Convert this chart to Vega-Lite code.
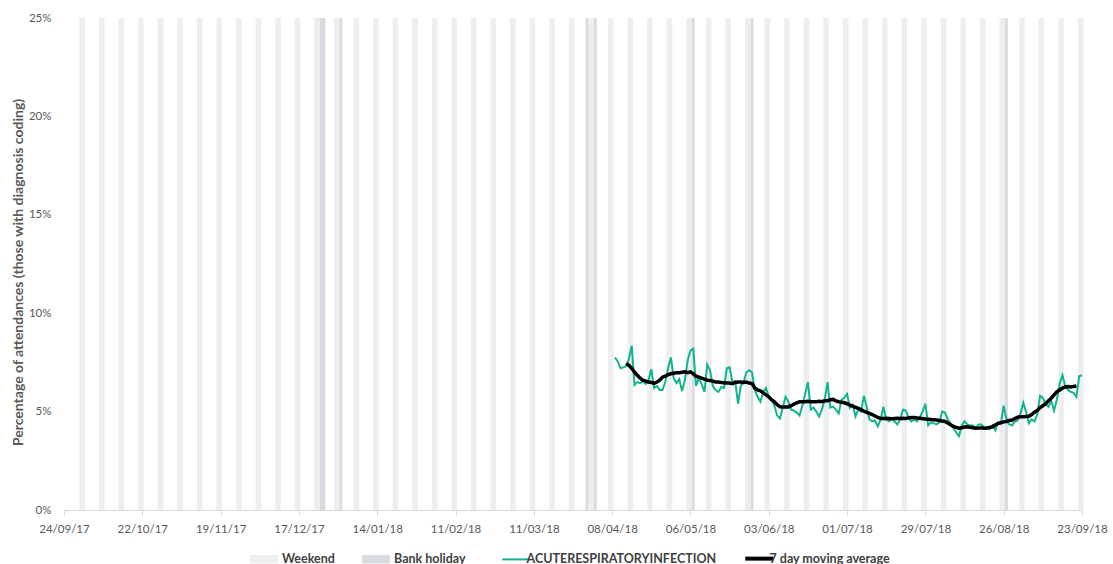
{
  "$schema": "https://vega.github.io/schema/vega-lite/v6.json",
  "width": 1018,
  "height": 492,
  "autosize": {"type": "none"},
  "padding": {"left": 64, "top": 18, "right": 31, "bottom": 54},
  "background": "#ffffff",
  "config": {
    "view": {"stroke": null},
    "font": "Lato",
    "axis": {"labelFont": "Lato", "labelColor": "#595959", "labelFontSize": 11.5, "titleFont": "Lato", "titleColor": "#595959", "titleFontWeight": "bold", "titleFontSize": 14},
    "legend": {"labelFont": "Lato", "labelFontSize": 12.5, "labelFontWeight": "bold", "labelColor": "#404040", "labelLimit": 320, "layout": {"bottom": {"anchor": "middle", "margin": 44}}}
  },
  "datasets": {
    "bands": [
      {"start": "2017-09-30", "end": "2017-10-01", "type": "Weekend"},
      {"start": "2017-10-07", "end": "2017-10-08", "type": "Weekend"},
      {"start": "2017-10-14", "end": "2017-10-15", "type": "Weekend"},
      {"start": "2017-10-21", "end": "2017-10-22", "type": "Weekend"},
      {"start": "2017-10-28", "end": "2017-10-29", "type": "Weekend"},
      {"start": "2017-11-04", "end": "2017-11-05", "type": "Weekend"},
      {"start": "2017-11-11", "end": "2017-11-12", "type": "Weekend"},
      {"start": "2017-11-18", "end": "2017-11-19", "type": "Weekend"},
      {"start": "2017-11-25", "end": "2017-11-26", "type": "Weekend"},
      {"start": "2017-12-02", "end": "2017-12-03", "type": "Weekend"},
      {"start": "2017-12-09", "end": "2017-12-10", "type": "Weekend"},
      {"start": "2017-12-16", "end": "2017-12-17", "type": "Weekend"},
      {"start": "2017-12-23", "end": "2017-12-24", "type": "Weekend"},
      {"start": "2017-12-30", "end": "2017-12-31", "type": "Weekend"},
      {"start": "2018-01-06", "end": "2018-01-07", "type": "Weekend"},
      {"start": "2018-01-13", "end": "2018-01-14", "type": "Weekend"},
      {"start": "2018-01-20", "end": "2018-01-21", "type": "Weekend"},
      {"start": "2018-01-27", "end": "2018-01-28", "type": "Weekend"},
      {"start": "2018-02-03", "end": "2018-02-04", "type": "Weekend"},
      {"start": "2018-02-10", "end": "2018-02-11", "type": "Weekend"},
      {"start": "2018-02-17", "end": "2018-02-18", "type": "Weekend"},
      {"start": "2018-02-24", "end": "2018-02-25", "type": "Weekend"},
      {"start": "2018-03-03", "end": "2018-03-04", "type": "Weekend"},
      {"start": "2018-03-10", "end": "2018-03-11", "type": "Weekend"},
      {"start": "2018-03-17", "end": "2018-03-18", "type": "Weekend"},
      {"start": "2018-03-24", "end": "2018-03-25", "type": "Weekend"},
      {"start": "2018-03-31", "end": "2018-04-01", "type": "Weekend"},
      {"start": "2018-04-07", "end": "2018-04-08", "type": "Weekend"},
      {"start": "2018-04-14", "end": "2018-04-15", "type": "Weekend"},
      {"start": "2018-04-21", "end": "2018-04-22", "type": "Weekend"},
      {"start": "2018-04-28", "end": "2018-04-29", "type": "Weekend"},
      {"start": "2018-05-05", "end": "2018-05-06", "type": "Weekend"},
      {"start": "2018-05-12", "end": "2018-05-13", "type": "Weekend"},
      {"start": "2018-05-19", "end": "2018-05-20", "type": "Weekend"},
      {"start": "2018-05-26", "end": "2018-05-27", "type": "Weekend"},
      {"start": "2018-06-02", "end": "2018-06-03", "type": "Weekend"},
      {"start": "2018-06-09", "end": "2018-06-10", "type": "Weekend"},
      {"start": "2018-06-16", "end": "2018-06-17", "type": "Weekend"},
      {"start": "2018-06-23", "end": "2018-06-24", "type": "Weekend"},
      {"start": "2018-06-30", "end": "2018-07-01", "type": "Weekend"},
      {"start": "2018-07-07", "end": "2018-07-08", "type": "Weekend"},
      {"start": "2018-07-14", "end": "2018-07-15", "type": "Weekend"},
      {"start": "2018-07-21", "end": "2018-07-22", "type": "Weekend"},
      {"start": "2018-07-28", "end": "2018-07-29", "type": "Weekend"},
      {"start": "2018-08-04", "end": "2018-08-05", "type": "Weekend"},
      {"start": "2018-08-11", "end": "2018-08-12", "type": "Weekend"},
      {"start": "2018-08-18", "end": "2018-08-19", "type": "Weekend"},
      {"start": "2018-08-25", "end": "2018-08-26", "type": "Weekend"},
      {"start": "2018-09-01", "end": "2018-09-02", "type": "Weekend"},
      {"start": "2018-09-08", "end": "2018-09-09", "type": "Weekend"},
      {"start": "2018-09-15", "end": "2018-09-16", "type": "Weekend"},
      {"start": "2018-09-22", "end": "2018-09-23", "type": "Weekend"},
      {"start": "2017-12-25", "end": "2017-12-26", "type": "Bank holiday"},
      {"start": "2018-01-01", "end": "2018-01-01", "type": "Bank holiday"},
      {"start": "2018-03-30", "end": "2018-03-30", "type": "Bank holiday"},
      {"start": "2018-04-02", "end": "2018-04-02", "type": "Bank holiday"},
      {"start": "2018-05-07", "end": "2018-05-07", "type": "Bank holiday"},
      {"start": "2018-05-28", "end": "2018-05-28", "type": "Bank holiday"},
      {"start": "2018-08-27", "end": "2018-08-27", "type": "Bank holiday"}
    ],
    "ts": [
      {"date": "2018-04-09", "ari": 7.75},
      {"date": "2018-04-10", "ari": 7.55},
      {"date": "2018-04-11", "ari": 7.2},
      {"date": "2018-04-12", "ari": 7.25},
      {"date": "2018-04-13", "ari": 7.3, "ma": 7.45},
      {"date": "2018-04-14", "ari": 7.7, "ma": 7.35},
      {"date": "2018-04-15", "ari": 8.35, "ma": 7.2},
      {"date": "2018-04-16", "ari": 6.35, "ma": 7.0},
      {"date": "2018-04-17", "ari": 6.5, "ma": 6.85},
      {"date": "2018-04-18", "ari": 6.45, "ma": 6.7},
      {"date": "2018-04-19", "ari": 6.55, "ma": 6.6},
      {"date": "2018-04-20", "ari": 6.4, "ma": 6.55},
      {"date": "2018-04-21", "ari": 6.6, "ma": 6.5},
      {"date": "2018-04-22", "ari": 7.15, "ma": 6.48},
      {"date": "2018-04-23", "ari": 6.2, "ma": 6.43},
      {"date": "2018-04-24", "ari": 6.3, "ma": 6.5},
      {"date": "2018-04-25", "ari": 6.1, "ma": 6.6},
      {"date": "2018-04-26", "ari": 6.1, "ma": 6.75},
      {"date": "2018-04-27", "ari": 6.5, "ma": 6.8},
      {"date": "2018-04-28", "ari": 7.2, "ma": 6.88},
      {"date": "2018-04-29", "ari": 7.75, "ma": 6.92},
      {"date": "2018-04-30", "ari": 6.7, "ma": 6.95},
      {"date": "2018-05-01", "ari": 6.45, "ma": 6.97},
      {"date": "2018-05-02", "ari": 6.65, "ma": 6.98},
      {"date": "2018-05-03", "ari": 6.05, "ma": 7.0},
      {"date": "2018-05-04", "ari": 6.6, "ma": 7.02},
      {"date": "2018-05-05", "ari": 7.6, "ma": 6.98},
      {"date": "2018-05-06", "ari": 8.1, "ma": 7.02},
      {"date": "2018-05-07", "ari": 8.2, "ma": 6.92},
      {"date": "2018-05-08", "ari": 6.3, "ma": 6.8},
      {"date": "2018-05-09", "ari": 6.7, "ma": 6.75},
      {"date": "2018-05-10", "ari": 6.4, "ma": 6.7},
      {"date": "2018-05-11", "ari": 6.0, "ma": 6.65},
      {"date": "2018-05-12", "ari": 7.4, "ma": 6.6},
      {"date": "2018-05-13", "ari": 7.1, "ma": 6.58},
      {"date": "2018-05-14", "ari": 6.3, "ma": 6.55},
      {"date": "2018-05-15", "ari": 6.1, "ma": 6.5},
      {"date": "2018-05-16", "ari": 6.0, "ma": 6.5},
      {"date": "2018-05-17", "ari": 6.25, "ma": 6.48},
      {"date": "2018-05-18", "ari": 6.2, "ma": 6.47},
      {"date": "2018-05-19", "ari": 7.2, "ma": 6.45},
      {"date": "2018-05-20", "ari": 7.25, "ma": 6.45},
      {"date": "2018-05-21", "ari": 6.5, "ma": 6.42},
      {"date": "2018-05-22", "ari": 6.55, "ma": 6.48},
      {"date": "2018-05-23", "ari": 5.4, "ma": 6.5},
      {"date": "2018-05-24", "ari": 6.3, "ma": 6.5},
      {"date": "2018-05-25", "ari": 6.5, "ma": 6.48},
      {"date": "2018-05-26", "ari": 7.0, "ma": 6.5},
      {"date": "2018-05-27", "ari": 7.1, "ma": 6.45},
      {"date": "2018-05-28", "ari": 7.0, "ma": 6.42},
      {"date": "2018-05-29", "ari": 6.1, "ma": 6.2},
      {"date": "2018-05-30", "ari": 5.75, "ma": 6.1},
      {"date": "2018-05-31", "ari": 5.5, "ma": 6.05},
      {"date": "2018-06-01", "ari": 6.0, "ma": 5.95},
      {"date": "2018-06-02", "ari": 6.2, "ma": 5.85},
      {"date": "2018-06-03", "ari": 5.75, "ma": 5.75},
      {"date": "2018-06-04", "ari": 5.6, "ma": 5.6},
      {"date": "2018-06-05", "ari": 5.3, "ma": 5.5},
      {"date": "2018-06-06", "ari": 4.8, "ma": 5.35},
      {"date": "2018-06-07", "ari": 4.65, "ma": 5.25},
      {"date": "2018-06-08", "ari": 5.2, "ma": 5.24},
      {"date": "2018-06-09", "ari": 5.75, "ma": 5.24},
      {"date": "2018-06-10", "ari": 5.5, "ma": 5.24},
      {"date": "2018-06-11", "ari": 5.1, "ma": 5.3},
      {"date": "2018-06-12", "ari": 5.05, "ma": 5.38},
      {"date": "2018-06-13", "ari": 4.95, "ma": 5.45},
      {"date": "2018-06-14", "ari": 4.8, "ma": 5.5},
      {"date": "2018-06-15", "ari": 5.3, "ma": 5.5},
      {"date": "2018-06-16", "ari": 5.9, "ma": 5.5},
      {"date": "2018-06-17", "ari": 6.5, "ma": 5.52},
      {"date": "2018-06-18", "ari": 5.1, "ma": 5.5},
      {"date": "2018-06-19", "ari": 5.2, "ma": 5.5},
      {"date": "2018-06-20", "ari": 5.0, "ma": 5.5},
      {"date": "2018-06-21", "ari": 4.75, "ma": 5.52},
      {"date": "2018-06-22", "ari": 5.1, "ma": 5.5},
      {"date": "2018-06-23", "ari": 5.6, "ma": 5.55},
      {"date": "2018-06-24", "ari": 6.5, "ma": 5.55},
      {"date": "2018-06-25", "ari": 5.2, "ma": 5.6},
      {"date": "2018-06-26", "ari": 5.25, "ma": 5.62},
      {"date": "2018-06-27", "ari": 5.1, "ma": 5.55},
      {"date": "2018-06-28", "ari": 4.9, "ma": 5.5},
      {"date": "2018-06-29", "ari": 5.6, "ma": 5.48},
      {"date": "2018-06-30", "ari": 5.7, "ma": 5.45},
      {"date": "2018-07-01", "ari": 5.9, "ma": 5.4},
      {"date": "2018-07-02", "ari": 5.2, "ma": 5.33},
      {"date": "2018-07-03", "ari": 5.35, "ma": 5.28},
      {"date": "2018-07-04", "ari": 4.75, "ma": 5.22},
      {"date": "2018-07-05", "ari": 5.1, "ma": 5.17},
      {"date": "2018-07-06", "ari": 5.0, "ma": 5.1},
      {"date": "2018-07-07", "ari": 5.8, "ma": 5.02},
      {"date": "2018-07-08", "ari": 5.25, "ma": 4.96},
      {"date": "2018-07-09", "ari": 4.6, "ma": 4.91},
      {"date": "2018-07-10", "ari": 4.5, "ma": 4.85},
      {"date": "2018-07-11", "ari": 4.55, "ma": 4.78},
      {"date": "2018-07-12", "ari": 4.25, "ma": 4.7},
      {"date": "2018-07-13", "ari": 4.6, "ma": 4.65},
      {"date": "2018-07-14", "ari": 5.25, "ma": 4.65},
      {"date": "2018-07-15", "ari": 4.6, "ma": 4.66},
      {"date": "2018-07-16", "ari": 4.5, "ma": 4.65},
      {"date": "2018-07-17", "ari": 4.65, "ma": 4.64},
      {"date": "2018-07-18", "ari": 4.5, "ma": 4.65},
      {"date": "2018-07-19", "ari": 4.35, "ma": 4.66},
      {"date": "2018-07-20", "ari": 4.6, "ma": 4.65},
      {"date": "2018-07-21", "ari": 5.1, "ma": 4.66},
      {"date": "2018-07-22", "ari": 5.05, "ma": 4.65},
      {"date": "2018-07-23", "ari": 4.7, "ma": 4.68},
      {"date": "2018-07-24", "ari": 4.5, "ma": 4.7},
      {"date": "2018-07-25", "ari": 4.6, "ma": 4.7},
      {"date": "2018-07-26", "ari": 4.5, "ma": 4.68},
      {"date": "2018-07-27", "ari": 4.7, "ma": 4.66},
      {"date": "2018-07-28", "ari": 5.0, "ma": 4.64},
      {"date": "2018-07-29", "ari": 5.4, "ma": 4.62},
      {"date": "2018-07-30", "ari": 4.3, "ma": 4.61},
      {"date": "2018-07-31", "ari": 4.45, "ma": 4.6},
      {"date": "2018-08-01", "ari": 4.4, "ma": 4.58},
      {"date": "2018-08-02", "ari": 4.35, "ma": 4.57},
      {"date": "2018-08-03", "ari": 4.45, "ma": 4.55},
      {"date": "2018-08-04", "ari": 5.0, "ma": 4.52},
      {"date": "2018-08-05", "ari": 4.95, "ma": 4.5},
      {"date": "2018-08-06", "ari": 4.6, "ma": 4.42},
      {"date": "2018-08-07", "ari": 4.4, "ma": 4.33},
      {"date": "2018-08-08", "ari": 4.15, "ma": 4.25},
      {"date": "2018-08-09", "ari": 3.95, "ma": 4.2},
      {"date": "2018-08-10", "ari": 3.75, "ma": 4.16},
      {"date": "2018-08-11", "ari": 4.3, "ma": 4.18},
      {"date": "2018-08-12", "ari": 4.5, "ma": 4.22},
      {"date": "2018-08-13", "ari": 4.35, "ma": 4.23},
      {"date": "2018-08-14", "ari": 4.3, "ma": 4.2},
      {"date": "2018-08-15", "ari": 4.3, "ma": 4.18},
      {"date": "2018-08-16", "ari": 4.15, "ma": 4.15},
      {"date": "2018-08-17", "ari": 4.35, "ma": 4.16},
      {"date": "2018-08-18", "ari": 4.35, "ma": 4.18},
      {"date": "2018-08-19", "ari": 4.2, "ma": 4.15},
      {"date": "2018-08-20", "ari": 4.2, "ma": 4.17},
      {"date": "2018-08-21", "ari": 4.1, "ma": 4.2},
      {"date": "2018-08-22", "ari": 4.3, "ma": 4.23},
      {"date": "2018-08-23", "ari": 4.05, "ma": 4.32},
      {"date": "2018-08-24", "ari": 4.45, "ma": 4.4},
      {"date": "2018-08-25", "ari": 4.4, "ma": 4.43},
      {"date": "2018-08-26", "ari": 5.3, "ma": 4.48},
      {"date": "2018-08-27", "ari": 4.6, "ma": 4.5},
      {"date": "2018-08-28", "ari": 4.35, "ma": 4.55},
      {"date": "2018-08-29", "ari": 4.3, "ma": 4.57},
      {"date": "2018-08-30", "ari": 4.5, "ma": 4.65},
      {"date": "2018-08-31", "ari": 4.55, "ma": 4.72},
      {"date": "2018-09-01", "ari": 4.9, "ma": 4.74},
      {"date": "2018-09-02", "ari": 5.45, "ma": 4.74},
      {"date": "2018-09-03", "ari": 5.0, "ma": 4.75},
      {"date": "2018-09-04", "ari": 4.4, "ma": 4.76},
      {"date": "2018-09-05", "ari": 4.6, "ma": 4.85},
      {"date": "2018-09-06", "ari": 4.5, "ma": 4.97},
      {"date": "2018-09-07", "ari": 4.85, "ma": 5.05},
      {"date": "2018-09-08", "ari": 5.8, "ma": 5.2},
      {"date": "2018-09-09", "ari": 5.7, "ma": 5.3},
      {"date": "2018-09-10", "ari": 5.4, "ma": 5.4},
      {"date": "2018-09-11", "ari": 5.25, "ma": 5.55},
      {"date": "2018-09-12", "ari": 5.55, "ma": 5.68},
      {"date": "2018-09-13", "ari": 5.05, "ma": 5.85},
      {"date": "2018-09-14", "ari": 5.6, "ma": 6.0},
      {"date": "2018-09-15", "ari": 6.4, "ma": 6.1},
      {"date": "2018-09-16", "ari": 6.85, "ma": 6.2},
      {"date": "2018-09-17", "ari": 6.3, "ma": 6.25},
      {"date": "2018-09-18", "ari": 6.1, "ma": 6.27},
      {"date": "2018-09-19", "ari": 6.0, "ma": 6.25},
      {"date": "2018-09-20", "ari": 5.95, "ma": 6.28},
      {"date": "2018-09-21", "ari": 5.75, "ma": 6.3},
      {"date": "2018-09-22", "ari": 6.8},
      {"date": "2018-09-23", "ari": 6.85}
    ]
  },
  "layer": [
    {
      "data": {"name": "bands"},
      "mark": {"type": "rect", "xOffset": -1.4, "x2Offset": 1.4},
      "encoding": {
        "x": {
          "field": "start", "type": "temporal",
          "scale": {"type": "utc", "domain": [{"year": 2017, "month": 9, "date": 24, "utc": true}, {"year": 2018, "month": 9, "date": 23, "utc": true}]},
          "axis": {
            "title": null, "grid": false, "format": "%d/%m/%y",
            "values": [
              {"year": 2017, "month": 9, "date": 24, "utc": true},
              {"year": 2017, "month": 10, "date": 22, "utc": true},
              {"year": 2017, "month": 11, "date": 19, "utc": true},
              {"year": 2017, "month": 12, "date": 17, "utc": true},
              {"year": 2018, "month": 1, "date": 14, "utc": true},
              {"year": 2018, "month": 2, "date": 11, "utc": true},
              {"year": 2018, "month": 3, "date": 11, "utc": true},
              {"year": 2018, "month": 4, "date": 8, "utc": true},
              {"year": 2018, "month": 5, "date": 6, "utc": true},
              {"year": 2018, "month": 6, "date": 3, "utc": true},
              {"year": 2018, "month": 7, "date": 1, "utc": true},
              {"year": 2018, "month": 7, "date": 29, "utc": true},
              {"year": 2018, "month": 8, "date": 26, "utc": true},
              {"year": 2018, "month": 9, "date": 23, "utc": true}
            ],
            "domainColor": "#d9d9d9", "tickColor": "#d9d9d9", "tickSize": 5,
            "labelPadding": 8, "labelOverlap": false, "labelFlush": false
          }
        },
        "x2": {"field": "end"},
        "y": {
          "datum": 25, "type": "quantitative",
          "scale": {"domain": [0, 25], "nice": false},
          "axis": {
            "title": "Percentage of attendances (those with diagnosis coding)",
            "values": [0, 5, 10, 15, 20, 25],
            "labelExpr": "datum.value + '%'",
            "domain": false, "ticks": false, "labelPadding": 13,
            "gridColor": "#d9d9d9", "titlePadding": 3, "titleY": 254
          }
        },
        "y2": {"datum": 0},
        "fill": {
          "field": "type", "type": "nominal",
          "scale": {"domain": ["Weekend", "Bank holiday"], "range": ["#edeef0", "#d8dce0"]},
          "legend": {
            "title": null, "orient": "bottom", "direction": "horizontal", "offset": 17,
            "symbolType": "M-2,-0.6H2V0.6H-2Z", "symbolSize": 196, "symbolStrokeWidth": 0,
            "symbolOpacity": 1, "columnPadding": 27, "labelOffset": 11
          }
        }
      }
    },
    {
      "data": {"name": "ts"},
      "mark": {"type": "line", "strokeWidth": 2},
      "encoding": {
        "x": {"field": "date", "type": "temporal"},
        "y": {"field": "ari", "type": "quantitative"},
        "stroke": {
          "datum": "ACUTERESPIRATORYINFECTION",
          "scale": {"domain": ["ACUTERESPIRATORYINFECTION", "7 day moving average"], "range": ["#12b38f", "#000000"]},
          "legend": {
            "title": null, "orient": "bottom", "direction": "horizontal", "offset": 17,
            "symbolType": "stroke", "symbolSize": 784, "symbolStrokeWidth": 2.5,
            "columnPadding": 20, "labelOffset": 4,
            "encode": {"symbols": {"update": {"strokeWidth": {"signal": "datum.value === '7 day moving average' ? 4 : 2"}}}}
          }
        }
      }
    },
    {
      "data": {"name": "ts"},
      "transform": [{"filter": "isValid(datum.ma)"}],
      "mark": {"type": "line", "strokeWidth": 3.5},
      "encoding": {
        "x": {"field": "date", "type": "temporal"},
        "y": {"field": "ma", "type": "quantitative"},
        "stroke": {"datum": "7 day moving average"}
      }
    }
  ]
}
